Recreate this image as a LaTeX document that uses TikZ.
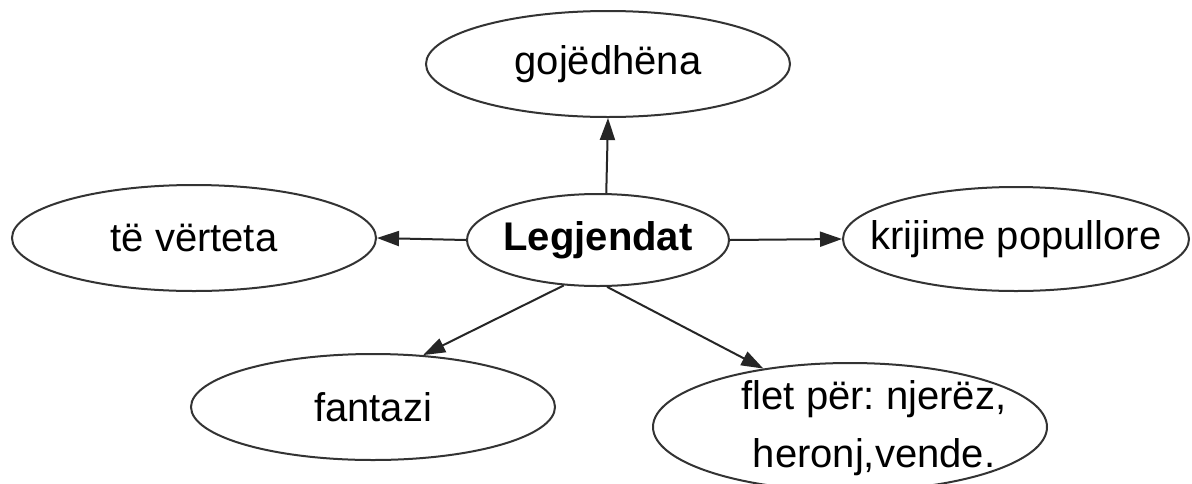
\documentclass[tikz,border=0pt]{standalone}
\usepackage{fontspec}
\setmainfont{Liberation Sans}
\usetikzlibrary{shapes.geometric,arrows.meta}
\frenchspacing
\begin{document}
\begin{tikzpicture}[x=1pt,y=-1pt,
  bub/.style={ellipse,draw=black!80,line width=2pt,inner sep=0pt,font=\fontsize{40}{58}\selectfont},
  lbl/.style={inner sep=0pt,align=center,font=\fontsize{40}{58}\selectfont},
  con/.style={draw=black!85,line width=2pt,-{Triangle[length=22pt,width=15pt]}}]
\useasboundingbox (0,0) rectangle (1192,483);
\fill[white] (0,0) rectangle (1192,483);
\node[bub,minimum width=364pt,minimum height=106pt] (goj) at (608,64) {\makebox[0pt]{gojëdhëna}};
\node[bub,minimum width=364pt,minimum height=106pt] (ver) at (194,238) {\makebox[0pt]{të vërteta}};
\node[bub,minimum width=262pt,minimum height=92pt] (leg) at (598,240) {\makebox[0pt]{\bfseries Legjendat}};
\node[bub,minimum width=346pt,minimum height=104pt] (kri) at (1016,239) {\makebox[0pt]{krijime popullore}};
\node[bub,minimum width=364pt,minimum height=106pt] (fan) at (373,407) {\makebox[0pt]{fantazi}};
\node[bub,minimum width=394pt,minimum height=128pt] (flet) at (850,427) {};
\node[lbl] (fletlbl) at (874,428) {flet për: njerëz,\\heronj,vende.};
\draw[con] (leg.80) -- (goj.south);
\draw[con] (leg.west) -- (ver.east);
\draw[con] (leg.east) -- (kri.west);
\draw[con] (leg.233) -- (fan.46);
\draw[con] (leg.281) -- (flet.146);
\end{tikzpicture}
\end{document}
